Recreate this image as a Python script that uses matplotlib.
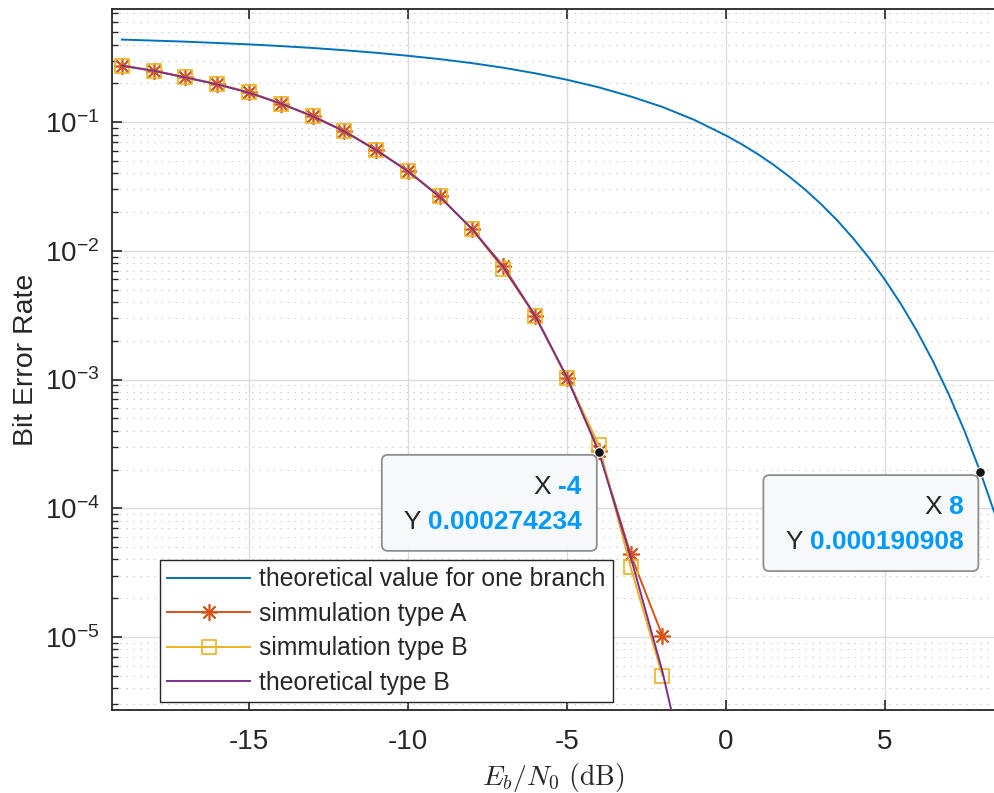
import numpy as np
import matplotlib
matplotlib.use("Agg")
import matplotlib.pyplot as plt
from matplotlib.ticker import LogLocator, NullLocator, NullFormatter, FixedLocator
from matplotlib.patches import FancyBboxPatch
from matplotlib.transforms import IdentityTransform

plt.rcParams['font.family'] = ['Liberation Sans', 'DejaVu Sans']
plt.rcParams['axes.unicode_minus'] = False
plt.rcParams['mathtext.fontset'] = 'custom'
plt.rcParams['mathtext.rm'] = 'Liberation Sans'
plt.rcParams['mathtext.it'] = 'Liberation Sans:italic'
plt.rcParams['mathtext.bf'] = 'Liberation Sans:bold'

# ---------------- data ----------------
ebn0_theory = [-19, -18, -17, -16, -15, -14, -13, -12, -11, -10, -9, -8, -7, -6, -5,
               -4, -3, -2, -1, 0, 0.5, 1, 1.5, 2, 2.5, 3, 3.5, 4, 4.5, 5, 5.5, 6,
               6.5, 7, 7.5, 8, 8.5, 9]
ber_one_branch = [0.437, 0.429, 0.421, 0.411, 0.401, 0.389, 0.376, 0.361, 0.345, 0.327,
                  0.308, 0.287, 0.264, 0.239, 0.213, 0.186, 0.158, 0.131, 0.104, 0.0786,
                  0.0671, 0.0563, 0.0464, 0.0375, 0.0297, 0.0229, 0.0172, 0.0125,
                  0.00879, 0.00595, 0.00386, 0.00239, 0.00140, 0.000773, 0.000399,
                  0.000190908, 0.0000840, 0.0000336]

ebn0_sim = [-19, -18, -17, -16, -15, -14, -13, -12, -11, -10, -9, -8, -7, -6, -5, -4, -3, -2]
ber_sim_A = [0.274, 0.250, 0.222, 0.197, 0.170, 0.139, 0.111, 0.085, 0.0605, 0.0416,
             0.0264, 0.0148, 0.0076, 0.00313, 0.00103, 2.80e-4, 4.4e-5, 1.02e-5]
ber_sim_B = [0.274, 0.250, 0.222, 0.197, 0.170, 0.139, 0.111, 0.085, 0.0605, 0.0416,
             0.0264, 0.0148, 0.0072, 0.00313, 0.00103, 3.10e-4, 3.5e-5, 5.0e-6]

ebn0_theory_B = [-19, -18, -17, -16, -15, -14, -13, -12, -11, -10, -9, -8, -7, -6, -5,
                 -4, -3, -2, -1]
ber_theory_B = [0.274, 0.250, 0.222, 0.196, 0.169, 0.139, 0.111, 0.0845, 0.0605, 0.0414,
                0.0262, 0.0149, 0.0074, 0.00312, 0.00104, 0.000274234, 4.2e-5, 5.4e-6, 4.5e-7]

labels = ['theoretical value for one branch', 'simmulation type A',
          'simmulation type B', 'theoretical type B']

datatips = [(-4, 0.000274234, '-4', '0.000274234'),
            (8, 0.000190908, '8', '0.000190908')]

# ---------------- figure ----------------
W, H = 995, 793
fig = plt.figure(figsize=(W / 100, H / 100), dpi=100)
ax = fig.add_axes([112 / W, 1 - 710 / H, (W - 112) / W, (710 - 9) / H])

c_blue, c_red, c_yel, c_pur = '#0072BD', '#D95319', '#EDB120', '#7E2F8E'
lw = 1.4
ax.semilogy(ebn0_theory, ber_one_branch, color=c_blue, lw=lw, label=labels[0], zorder=3)
ax.semilogy(ebn0_sim, ber_sim_A, color=c_red, lw=lw, marker=(8, 2, 0), ms=12, mew=1.2,
            label=labels[1], zorder=4)
ax.semilogy(ebn0_sim, ber_sim_B, color=c_yel, lw=lw, marker='s', ms=10, mfc='none',
            mew=1.2, label=labels[2], zorder=5)
ax.semilogy(ebn0_theory_B, ber_theory_B, color=c_pur, lw=lw, label=labels[3], zorder=6)

ax.set_xlim(-19.31, 8.46)
ax.set_ylim(2.71e-6, 0.755)

ax.xaxis.set_major_locator(FixedLocator([-15, -10, -5, 0, 5]))
ax.xaxis.set_minor_locator(NullLocator())
ax.yaxis.set_major_locator(LogLocator(base=10, numticks=20))
ax.yaxis.set_minor_locator(LogLocator(base=10, subs=np.arange(2, 10), numticks=40))
ax.yaxis.set_minor_formatter(NullFormatter())

axc = '#262626'
for s in ['left', 'top', 'bottom']:
    ax.spines[s].set_color(axc)
    ax.spines[s].set_linewidth(1.3)
ax.spines['right'].set_visible(False)

ax.tick_params(which='both', direction='in', top=True, right=False, colors=axc,
               labelcolor=axc)
ax.tick_params(which='major', length=7, width=1.2, labelsize=20)
ax.tick_params(which='minor', length=4, width=1.0)
ax.tick_params(axis='x', which='major', pad=14)
ax.tick_params(axis='y', which='major', pad=9)

ax.set_axisbelow(True)
ax.grid(True, which='major', color='#dcdcdc', lw=1.0, ls='-')
ax.yaxis.grid(True, which='minor', color='#c4c4c4', lw=0.8, ls=(0, (1.2, 5.1)))

ax.set_ylabel('Bit Error Rate', fontsize=20.5, color=axc, labelpad=4)
ax.set_xlabel(r'$E_b/N_0\ \mathrm{(dB)}$', fontsize=20, color=axc, labelpad=4,
              math_fontfamily='cm')

leg = ax.legend(loc='lower left', bbox_to_anchor=((160 - 112) / (W - 112), (710 - 702) / 701),
                borderaxespad=0, fontsize=17.8, frameon=True, fancybox=False,
                edgecolor=axc, framealpha=1, handlelength=3.35, handletextpad=0.36,
                borderpad=0.3, labelspacing=0.42)
leg.get_frame().set_linewidth(1.0)
for t in leg.get_texts():
    t.set_color(axc)
leg.set_zorder(20)

# ---------------- datatips ----------------
renderer = fig.canvas.get_renderer()
tip_val_color = '#0099FF'
tip_lab_color = '#262626'
for (xv, yv, xs, ys) in datatips:
    px, py = ax.transData.transform((xv, yv))
    ax.plot([xv], [yv], 'o', color='#111111', ms=7, mec='white', mew=0.8, zorder=30,
            clip_on=False)
    box = FancyBboxPatch((px - 217, py - 99), 215, 96,
                         boxstyle='round,pad=0,rounding_size=6',
                         transform=IdentityTransform(), facecolor='#f7f8fa',
                         edgecolor='#8a8a8a', lw=1.3, zorder=25, alpha=0.97)
    fig.add_artist(box)
    rx = px - 17
    for (lab, val, dy) in [('X', xs, -35), ('Y', ys, -70)]:
        tv = fig.text(rx, py + dy, val, transform=IdentityTransform(), ha='right',
                      va='center', fontsize=19, fontweight='bold', color=tip_val_color,
                      zorder=26)
        bb = tv.get_window_extent(renderer)
        fig.text(bb.x0 - 7, py + dy, lab, transform=IdentityTransform(), ha='right',
                 va='center', fontsize=19, color=tip_lab_color, zorder=26)

fig.savefig('out.png', dpi=100)
